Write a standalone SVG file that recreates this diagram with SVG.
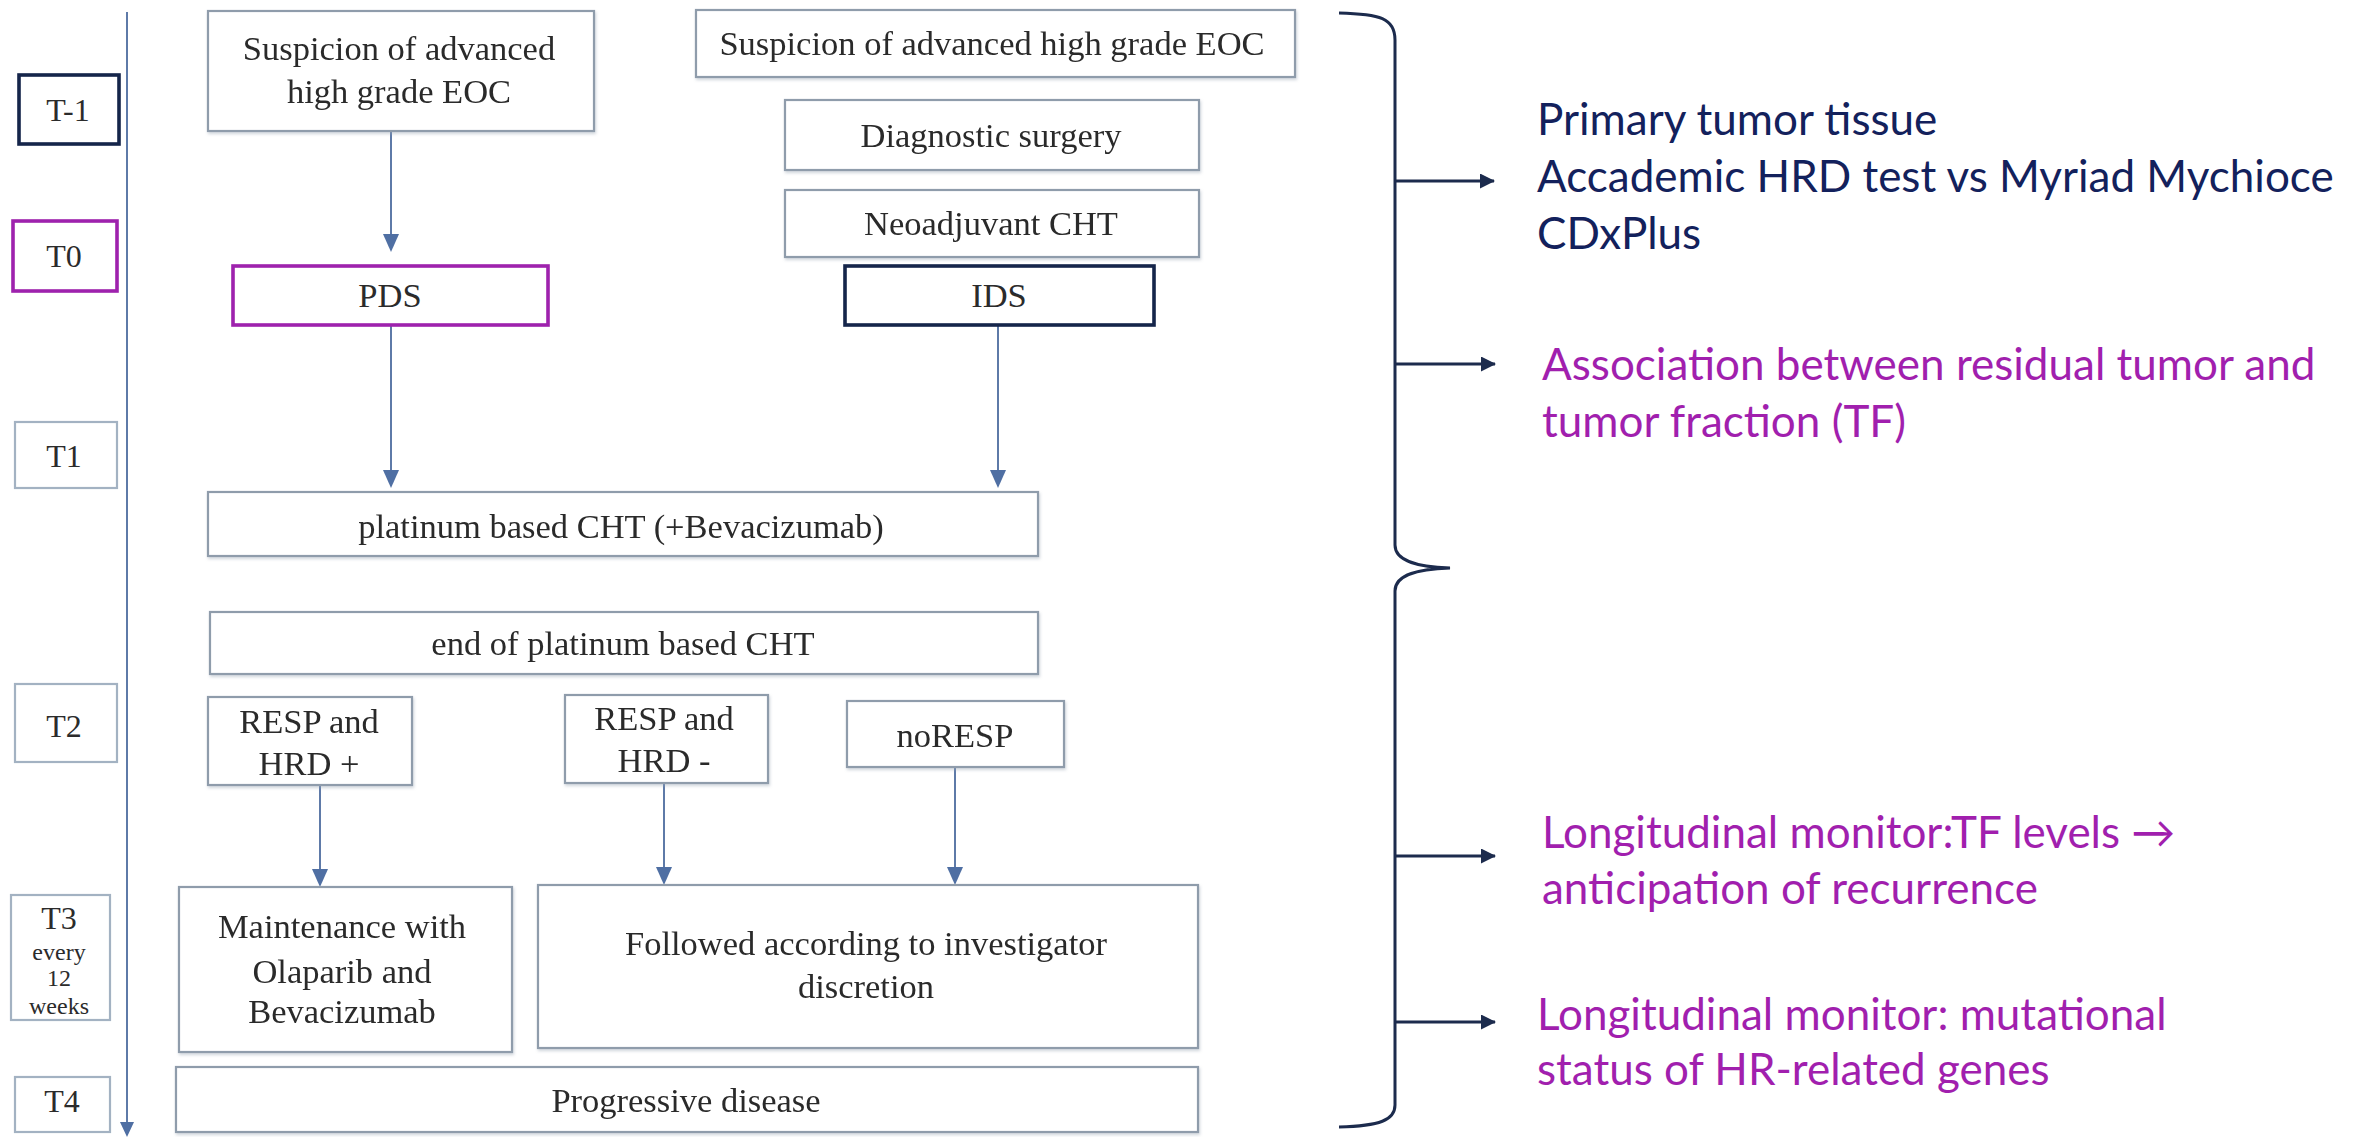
<svg xmlns="http://www.w3.org/2000/svg" width="2369" height="1137" viewBox="0 0 2369 1137">
<style>
.box{fill:#ffffff;stroke:#8f9cab;stroke-width:2.2}
.tbox{fill:#ffffff;stroke:#a3b2c2;stroke-width:2.2}
.navy{fill:#ffffff;stroke:#15254a;stroke-width:3.6}
.purp{fill:#ffffff;stroke:#9e22ad;stroke-width:3.6}
.ft{font-family:"Liberation Serif","Times New Roman",serif;font-size:34.5px;fill:#2b2b2b;text-anchor:middle}
.tl{font-size:32px}
.small{font-size:24px}
.conn{stroke:#5e7aa8;stroke-width:2;fill:none}
.rconn{stroke:#1c2b4d;stroke-width:3;fill:none}
.rt{font-family:Lato,"Open Sans",sans-serif;font-size:44px}
.nv{fill:#13215c}
.pu{fill:#a11fae}
</style>
<defs>
<marker id="rah" markerWidth="15" markerHeight="15" refX="14" refY="7.5" orient="auto" markerUnits="userSpaceOnUse" viewBox="0 0 15 15">
<path d="M0,0 L15,7.5 L0,15 Z" fill="#1c2b4d"/>
</marker>
<filter id="sh" x="-5%" y="-5%" width="110%" height="115%">
<feDropShadow dx="1" dy="2" stdDeviation="1.5" flood-color="#9aa6b4" flood-opacity="0.45"/>
</filter>
</defs>
<rect width="2369" height="1137" fill="#ffffff"/>

<g id="connectors">
<line class="conn" x1="127" y1="12" x2="127" y2="1124"/>
<path d="M120,1122 L134,1122 L127,1137 Z" fill="#4f6fa3"/>
<line class="conn" x1="391" y1="131" x2="391" y2="236"/>
<path d="M383,234 L399,234 L391,252 Z" fill="#4f6fa3"/>
<line class="conn" x1="391" y1="325" x2="391" y2="472"/>
<path d="M383,470 L399,470 L391,488 Z" fill="#4f6fa3"/>
<line class="conn" x1="998" y1="325" x2="998" y2="472"/>
<path d="M990,470 L1006,470 L998,488 Z" fill="#4f6fa3"/>
<line class="conn" x1="320" y1="785" x2="320" y2="871"/>
<path d="M312,869 L328,869 L320,887 Z" fill="#4f6fa3"/>
<line class="conn" x1="664" y1="783" x2="664" y2="869"/>
<path d="M656,867 L672,867 L664,885 Z" fill="#4f6fa3"/>
<line class="conn" x1="955" y1="767" x2="955" y2="869"/>
<path d="M947,867 L963,867 L955,885 Z" fill="#4f6fa3"/>
<path class="rconn" d="M1339,13 C1380,14 1395,18 1395,40 L1395,545 C1395,562 1420,567 1450,568 C1420,569 1395,574 1395,591 L1395,1105 C1395,1120 1380,1126 1339,1127"/>
<line class="rconn" x1="1395" y1="181" x2="1494" y2="181" marker-end="url(#rah)"/>
<line class="rconn" x1="1395" y1="364" x2="1495" y2="364" marker-end="url(#rah)"/>
<line class="rconn" x1="1395" y1="856" x2="1495" y2="856" marker-end="url(#rah)"/>
<line class="rconn" x1="1395" y1="1022" x2="1495" y2="1022" marker-end="url(#rah)"/>
</g>

<g id="t-1"><rect class="navy" x="19" y="75" width="100" height="69"/><text class="ft tl" x="68" y="121">T-1</text></g>
<g id="t0"><rect class="purp" x="13" y="221" width="104" height="70"/><text class="ft tl" x="64" y="267">T0</text></g>
<g id="t1"><rect class="tbox" x="15" y="422" width="102" height="66"/><text class="ft tl" x="64" y="467">T1</text></g>
<g id="t2"><rect class="tbox" x="15" y="684" width="102" height="78"/><text class="ft tl" x="64" y="737">T2</text></g>
<g id="t3"><rect class="tbox" x="11" y="895" width="99" height="125"/>
<text class="ft tl" x="59" y="929">T3</text>
<text class="ft small" x="59" y="960">every</text>
<text class="ft small" x="59" y="986">12</text>
<text class="ft small" x="59" y="1014">weeks</text></g>
<g id="t4"><rect class="tbox" x="15" y="1077" width="95" height="55"/><text class="ft tl" x="62" y="1112">T4</text></g>

<g id="susp-left" filter="url(#sh)"><rect class="box" x="208" y="11" width="386" height="120"/>
<text class="ft" x="399" y="60">Suspicion of advanced</text>
<text class="ft" x="399" y="103">high grade EOC</text></g>
<g id="susp-right" filter="url(#sh)"><rect class="box" x="696" y="10" width="599" height="67"/>
<text class="ft" x="992" y="55">Suspicion of advanced high grade EOC</text></g>
<g id="diag" filter="url(#sh)"><rect class="box" x="785" y="100" width="414" height="70"/>
<text class="ft" x="991" y="147">Diagnostic surgery</text></g>
<g id="neo" filter="url(#sh)"><rect class="box" x="785" y="190" width="414" height="67"/>
<text class="ft" x="991" y="235">Neoadjuvant CHT</text></g>
<g id="pds"><rect class="purp" x="233" y="266" width="315" height="59"/>
<text class="ft" x="390" y="307">PDS</text></g>
<g id="ids"><rect class="navy" x="845" y="266" width="309" height="59"/>
<text class="ft" x="999" y="307">IDS</text></g>
<g id="platinum" filter="url(#sh)"><rect class="box" x="208" y="492" width="830" height="64"/>
<text class="ft" x="621" y="538">platinum based CHT (+Bevacizumab)</text></g>
<g id="end-platinum" filter="url(#sh)"><rect class="box" x="210" y="612" width="828" height="62"/>
<text class="ft" x="623" y="655">end of platinum based CHT</text></g>
<g id="resp-hrd-pos" filter="url(#sh)"><rect class="box" x="208" y="697" width="204" height="88"/>
<text class="ft" x="309" y="733">RESP and</text>
<text class="ft" x="309" y="775">HRD +</text></g>
<g id="resp-hrd-neg" filter="url(#sh)"><rect class="box" x="565" y="695" width="203" height="88"/>
<text class="ft" x="664" y="730">RESP and</text>
<text class="ft" x="664" y="772">HRD -</text></g>
<g id="noresp" filter="url(#sh)"><rect class="box" x="847" y="701" width="217" height="66"/>
<text class="ft" x="955" y="747">noRESP</text></g>
<g id="maintenance" filter="url(#sh)"><rect class="box" x="179" y="887" width="333" height="165"/>
<text class="ft" x="342" y="938">Maintenance with</text>
<text class="ft" x="342" y="983">Olaparib and</text>
<text class="ft" x="342" y="1023">Bevacizumab</text></g>
<g id="followed" filter="url(#sh)"><rect class="box" x="538" y="885" width="660" height="163"/>
<text class="ft" x="866" y="955">Followed according to investigator</text>
<text class="ft" x="866" y="998">discretion</text></g>
<g id="progressive" filter="url(#sh)"><rect class="box" x="176" y="1067" width="1022" height="65"/>
<text class="ft" x="686" y="1112">Progressive disease</text></g>

<g id="note-1">
<text class="rt nv" x="1537" y="135">Primary tumor tissue</text>
<text class="rt nv" x="1537" y="192">Accademic HRD test vs Myriad Mychioce</text>
<text class="rt nv" x="1537" y="249">CDxPlus</text>
</g>
<g id="note-2">
<text class="rt pu" x="1542" y="380">Association between residual tumor and</text>
<text class="rt pu" x="1542" y="437">tumor fraction (TF)</text>
</g>
<g id="note-3">
<text class="rt pu" x="1542" y="848">Longitudinal monitor:TF levels →</text>
<text class="rt pu" x="1542" y="904">anticipation of recurrence</text>
</g>
<g id="note-4">
<text class="rt pu" x="1537" y="1030">Longitudinal monitor: mutational</text>
<text class="rt pu" x="1537" y="1085">status of HR-related genes</text>
</g>
</svg>
